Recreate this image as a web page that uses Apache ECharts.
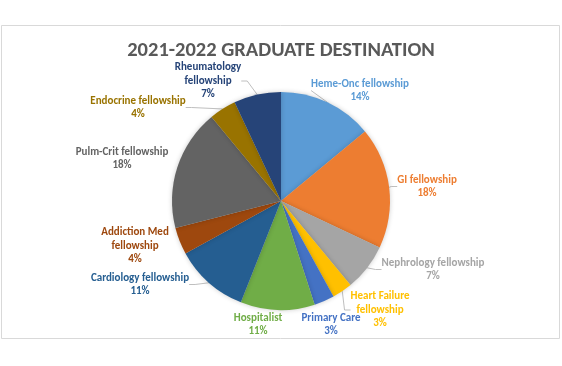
<!DOCTYPE html>
<html><head><meta charset="utf-8">
<script src="https://cdn.jsdelivr.net/npm/echarts@6/dist/echarts.min.js"></script>
<style>html,body{margin:0;padding:0;background:#fff}#c{width:562px;height:366px}</style>
</head><body><div id="c"></div>
<script>
const categories = ["Heme-Onc fellowship","GI fellowship","Nephrology fellowship","Heart Failure\nfellowship","Primary Care","Hospitalist","Cardiology fellowship","Addiction Med\nfellowship","Pulm-Crit fellowship","Endocrine fellowship","Rheumatology\nfellowship"];
const values = [14,18,7,3,3,11,11,4,18,4,7];
const colors = ["#5B9BD5","#ED7D31","#A5A5A5","#FFC000","#4472C4","#70AD47","#255E91","#9E480E","#636363","#997300","#264478"];
const titleText = "2021-2022 GRADUATE DESTINATION";

// label placement (offsets of label centres from pie centre), layout only
const labelOffsets = [[79,-110.5],[146,-14.5],[152,68.5],[99,109],[50,123.5],[-23,123.5],[-141,83.5],[-146,45],[-159,-42.5],[-143,-93.5],[-73,-120]];
const showLine = [true,true,true,true,false,false,true,false,false,true,true];

const CX = 281, CY = 201;
const chart = echarts.init(document.getElementById('c'), null, {renderer:'canvas'});
const FONT = "Carlito, Lato, 'Liberation Sans', sans-serif";
chart.setOption({
  backgroundColor:'#fff',
  animation:false,
  graphic:[{type:'rect',shape:{x:1.5,y:25.5,width:558,height:313},style:{fill:'none',stroke:'#d9d9d9',lineWidth:1},z:-1}],
  title:{text:titleText,left:'center',top:35,textStyle:{fontFamily:FONT,fontSize:20.5,fontWeight:'bold',color:'#595959'}},
  series:[{
    type:'pie',center:[CX,CY],radius:[0,109],startAngle:90,clockwise:true,
    data:categories.map((c,i)=>({name:c,value:values[i],itemStyle:{color:colors[i]},label:{color:colors[i]},labelLine:{show:showLine[i]}})),
    itemStyle:{borderWidth:0,shadowBlur:5,shadowColor:'rgba(0,0,0,0.2)'},
    label:{show:true,formatter:p=>p.name+'\n'+Math.round(p.percent)+'%',fontFamily:FONT,fontSize:11,fontWeight:'bold',lineHeight:13.5,align:'center'},
    labelLine:{show:true,length:6,length2:6,lineStyle:{color:'#bfbfbf',width:1}},
    labelLayout:function(p){
      const o = labelOffsets[p.dataIndex];
      return {x:CX+o[0], y:CY+o[1], align:'center', verticalAlign:'middle'};
    }
  }]
});
</script></body></html>
